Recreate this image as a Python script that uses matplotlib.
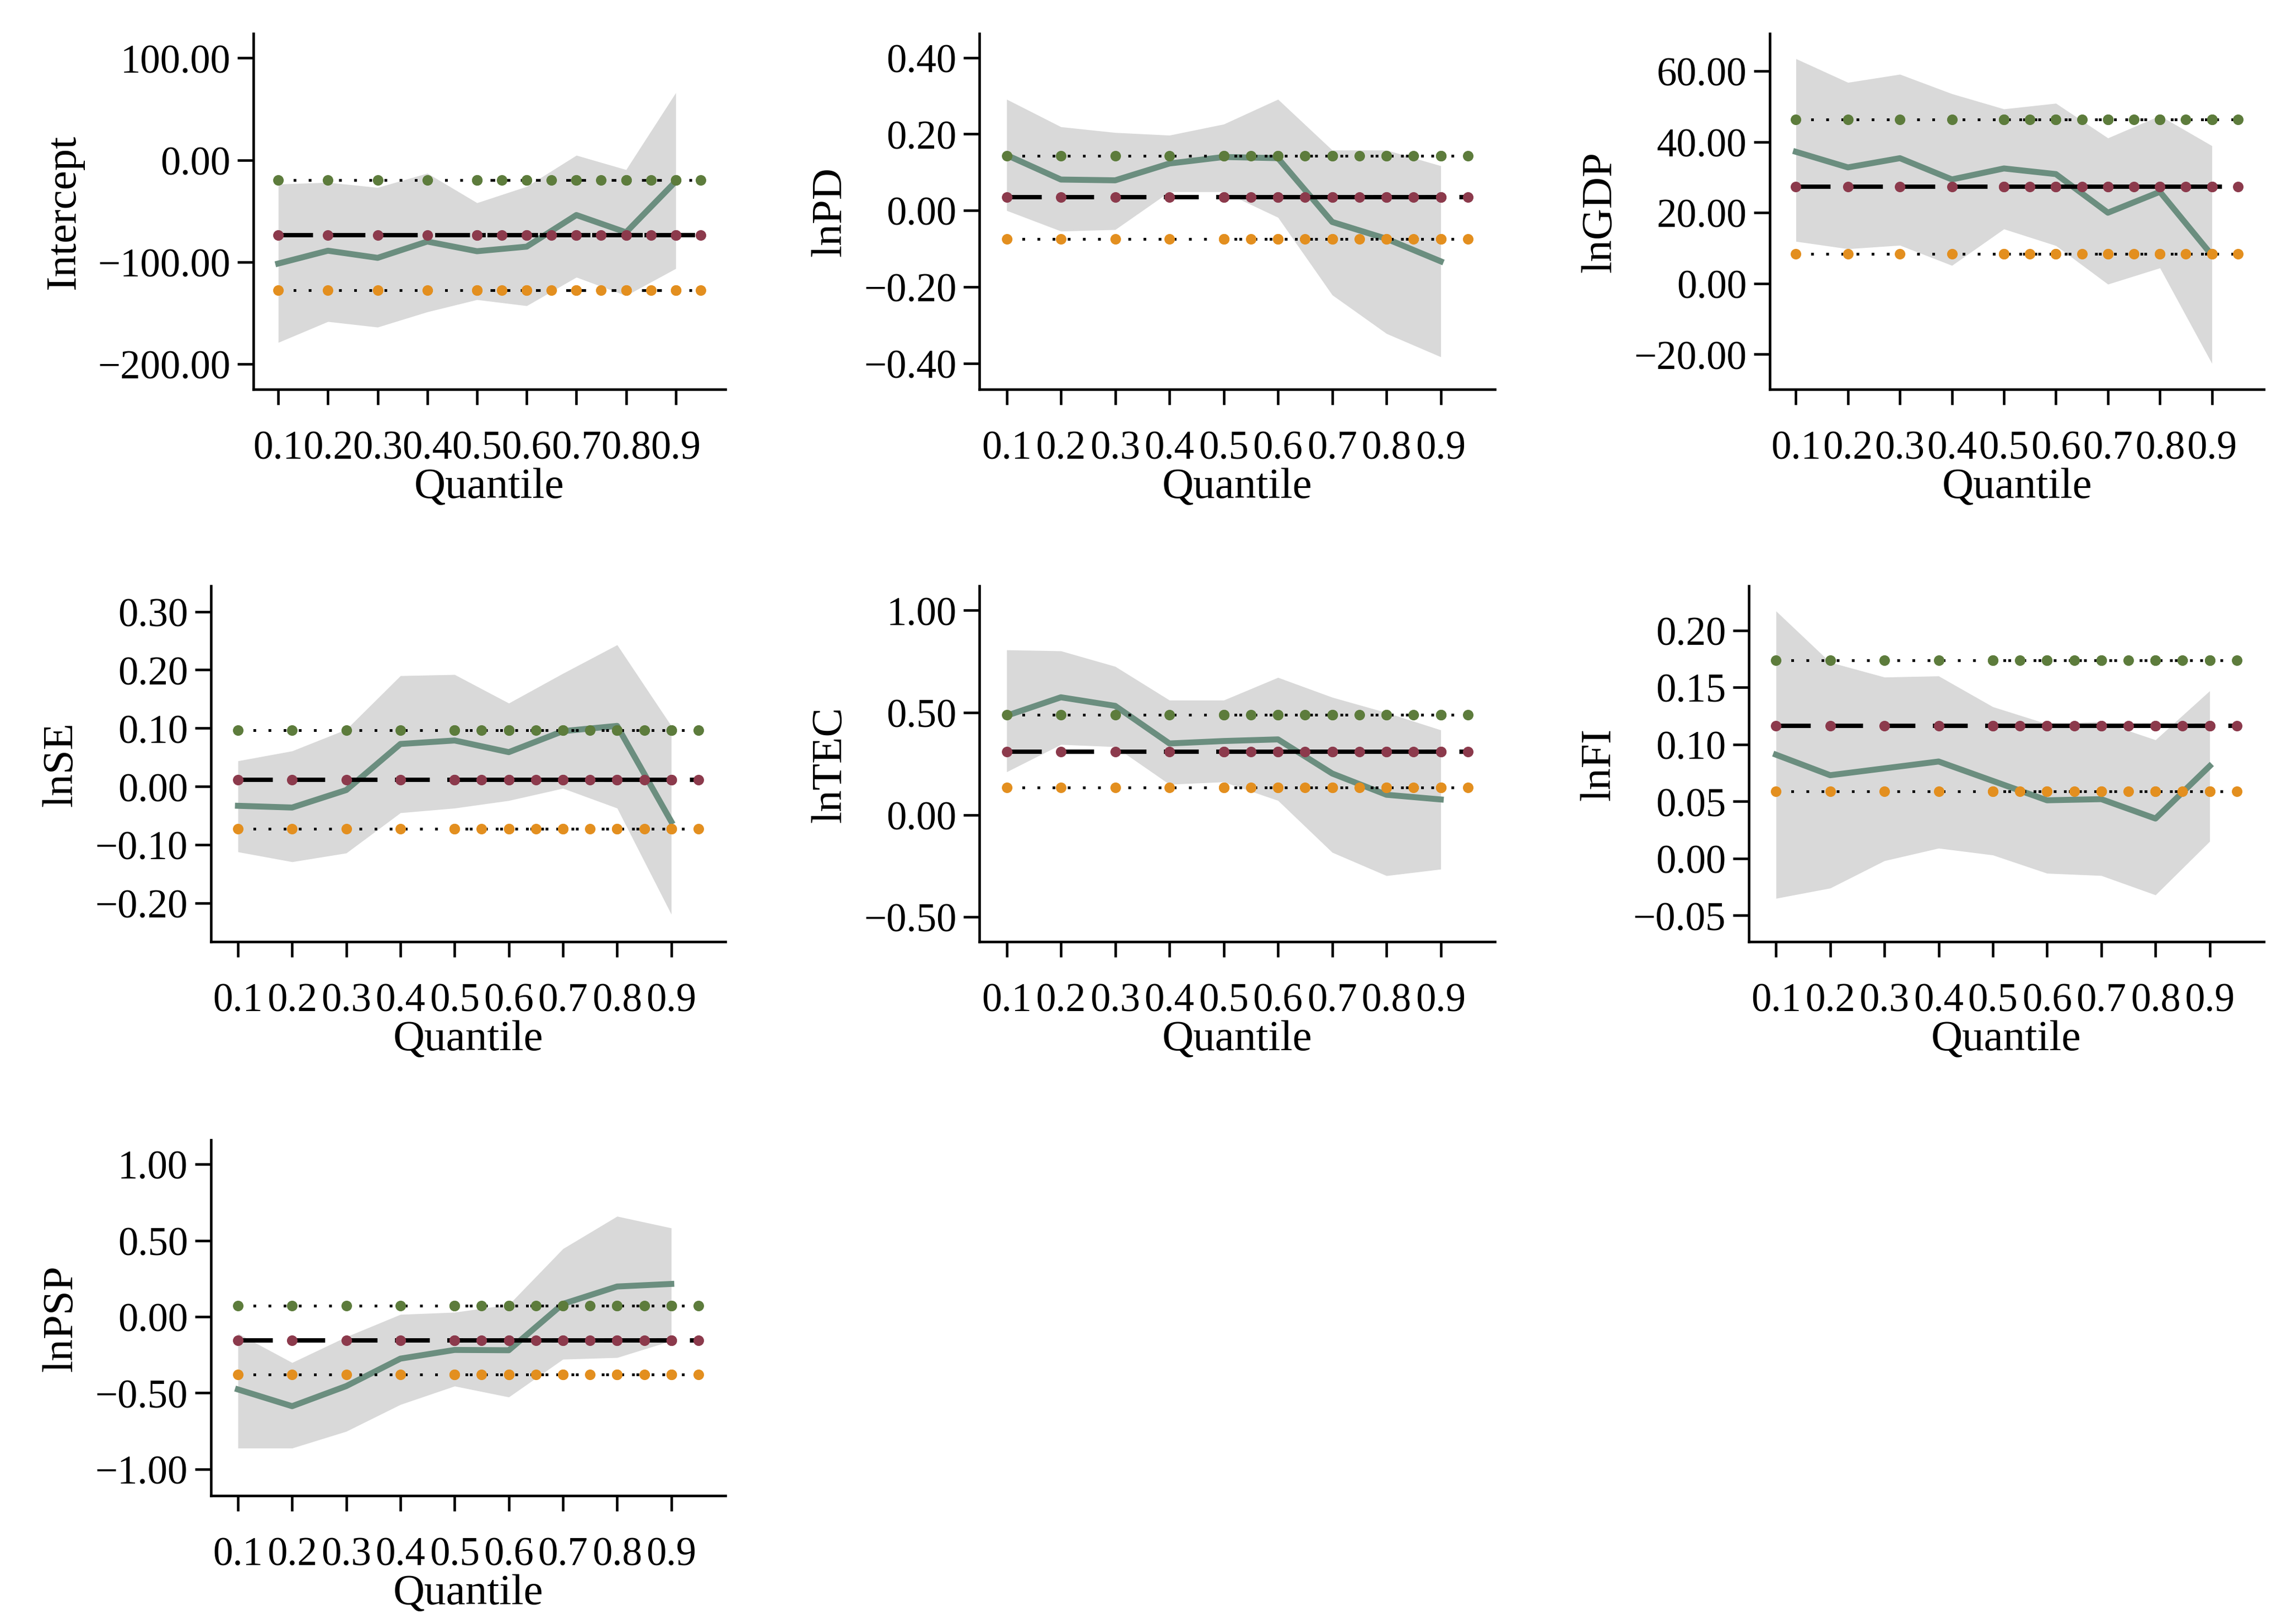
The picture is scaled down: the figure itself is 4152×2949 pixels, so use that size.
import matplotlib
matplotlib.use("Agg")
import matplotlib.pyplot as plt
from matplotlib.ticker import FuncFormatter

plt.rcParams['font.family'] = ['Liberation Serif', 'DejaVu Serif']
plt.rcParams['font.size'] = 17.5

# quantiles used by the quantile regression
quantiles = [0.1, 0.2, 0.3, 0.4, 0.5, 0.6, 0.7, 0.8, 0.9]
# grid on which the OLS reference lines are drawn (coarse + fine part)
ols_grid_coarse = [0.1, 0.2, 0.3, 0.4, 0.5, 0.6, 0.7, 0.8, 0.9]
ols_grid_fine = [0.5, 0.55, 0.6, 0.65, 0.7, 0.75, 0.8, 0.85, 0.9, 0.95]
xtick_labels = ["0.1", "0.2", "0.3", "0.4", "0.5", "0.6", "0.7", "0.8", "0.9"]

variables = ["Intercept", "lnPD", "lnGDP", "lnSE", "lnTEC", "lnFI", "lnPSP"]

# quantile regression coefficients
qr_coef = {
    "Intercept": [-101.6, -89.0, -96.0, -80.0, -89.5, -85.0, -54.0, -71.0, -21.0],
    "lnPD": [0.145, 0.081, 0.079, 0.123, 0.140, 0.137, -0.030, -0.074, -0.133],
    "lnGDP": [37.2, 32.8, 35.4, 29.4, 32.5, 30.9, 20.0, 25.9, 8.0],
    "lnSE": [-0.033, -0.036, -0.006, 0.073, 0.079, 0.059, 0.095, 0.104, -0.060],
    "lnTEC": [0.485, 0.575, 0.533, 0.349, 0.361, 0.369, 0.202, 0.098, 0.075],
    "lnFI": [0.091, 0.073, 0.079, 0.085, 0.068, 0.051, 0.052, 0.035, 0.081],
    "lnPSP": [-0.477, -0.587, -0.455, -0.275, -0.218, -0.220, 0.084, 0.198, 0.215],
}
# quantile regression confidence band
qr_upper = {
    "Intercept": [-23.7, -22.0, -27.0, -13.0, -42.0, -26.0, 4.6, -9.5, 66.0],
    "lnPD": [0.291, 0.219, 0.204, 0.197, 0.226, 0.291, 0.158, 0.158, 0.117],
    "lnGDP": [63.5, 56.8, 59.1, 53.6, 49.3, 50.9, 41.1, 47.4, 38.9],
    "lnSE": [0.044, 0.061, 0.098, 0.190, 0.192, 0.143, 0.194, 0.243, 0.104],
    "lnTEC": [0.807, 0.802, 0.726, 0.561, 0.561, 0.672, 0.575, 0.500, 0.415],
    "lnFI": [0.217, 0.172, 0.159, 0.160, 0.133, 0.118, 0.120, 0.104, 0.147],
    "lnPSP": [-0.110, -0.301, -0.132, 0.015, 0.029, 0.079, 0.446, 0.659, 0.582],
}
qr_lower = {
    "Intercept": [-179.0, -158.5, -164.0, -149.0, -137.0, -143.0, -115.0, -133.0, -106.5],
    "lnPD": [0.000, -0.054, -0.050, 0.049, 0.049, -0.018, -0.221, -0.322, -0.383],
    "lnGDP": [11.9, 9.8, 10.8, 5.1, 15.4, 10.7, -0.2, 4.4, -22.6],
    "lnSE": [-0.112, -0.129, -0.114, -0.045, -0.037, -0.024, -0.003, -0.037, -0.219],
    "lnTEC": [0.210, 0.344, 0.333, 0.149, 0.161, 0.070, -0.184, -0.298, -0.266],
    "lnFI": [-0.035, -0.026, -0.002, 0.009, 0.003, -0.013, -0.015, -0.032, 0.015],
    "lnPSP": [-0.862, -0.862, -0.752, -0.576, -0.455, -0.527, -0.279, -0.268, -0.158],
}
# OLS estimate and its confidence interval
ols_coef = {"Intercept": -73.7, "lnPD": 0.035, "lnGDP": 27.3, "lnSE": 0.012,
            "lnTEC": 0.308, "lnFI": 0.1165, "lnPSP": -0.154}
ols_upper = {"Intercept": -19.7, "lnPD": 0.143, "lnGDP": 46.3, "lnSE": 0.097,
             "lnTEC": 0.489, "lnFI": 0.174, "lnPSP": 0.073}
ols_lower = {"Intercept": -127.6, "lnPD": -0.074, "lnGDP": 8.3, "lnSE": -0.072,
             "lnTEC": 0.133, "lnFI": 0.059, "lnPSP": -0.378}

yticks = {
    "Intercept": [-200, -100, 0, 100],
    "lnPD": [-0.4, -0.2, 0.0, 0.2, 0.4],
    "lnGDP": [-20, 0, 20, 40, 60],
    "lnSE": [-0.2, -0.1, 0.0, 0.1, 0.2, 0.3],
    "lnTEC": [-0.5, 0.0, 0.5, 1.0],
    "lnFI": [-0.05, 0.0, 0.05, 0.1, 0.15, 0.2],
    "lnPSP": [-1.0, -0.5, 0.0, 0.5, 1.0],
}
ylims = {
    "Intercept": (-225, 124),
    "lnPD": (-0.468, 0.463),
    "lnGDP": (-29.9, 70.6),
    "lnSE": (-0.266, 0.344),
    "lnTEC": (-0.621, 1.12),
    "lnFI": (-0.073, 0.239),
    "lnPSP": (-1.174, 1.16),
}

# axes rectangles [left, bottom, width, height] in figure fractions
rects = {
    "Intercept": [0.1108, 0.760, 0.2064, 0.219],
    "lnPD": [0.4283, 0.760, 0.2254, 0.219],
    "lnGDP": [0.7739, 0.760, 0.2160, 0.219],
    "lnSE": [0.0922, 0.420, 0.2250, 0.219],
    "lnTEC": [0.4283, 0.420, 0.2254, 0.219],
    "lnFI": [0.7647, 0.420, 0.2252, 0.219],
    "lnPSP": [0.0922, 0.079, 0.2250, 0.219],
}

qr_color = "#6b8e7f"
band_color = "#d9d9d9"
ols_dot = "#8c3a4c"
up_dot = "#5d7c3c"
lo_dot = "#e38f1f"

minus_fmt = FuncFormatter(lambda v, pos: f"{v:.2f}".replace("-", "\u2212"))

fig = plt.figure(figsize=(13.84, 9.8333), dpi=300)

for name in variables:
    ax = fig.add_axes(rects[name])

    ax.fill_between(quantiles, qr_lower[name], qr_upper[name],
                    color=band_color, linewidth=0, zorder=1)
    ax.plot(quantiles, qr_coef[name], color=qr_color, lw=2.6, zorder=3)

    # OLS confidence bounds: dotted lines with coloured dots
    for val, col in ((ols_upper[name], up_dot), (ols_lower[name], lo_dot)):
        for grid in (ols_grid_coarse, ols_grid_fine):
            ax.plot(grid, [val] * len(grid), color="black", lw=1.2,
                    dashes=(1, 4.5), dash_capstyle="butt", marker="o",
                    ms=3.6, mfc=col, mec=col, zorder=4)

    # OLS estimate: long dashes with maroon dots
    for grid, off in ((ols_grid_coarse, 0), (ols_grid_fine, 6)):
        line, = ax.plot(grid, [ols_coef[name]] * len(grid), color="black",
                        lw=1.9, marker="o", ms=3.6, mfc=ols_dot, mec=ols_dot,
                        zorder=5)
        line.set_linestyle((off, (8, 4)))

    ax.set_xlim(0.05, 1.0)
    ax.set_ylim(*ylims[name])
    ax.set_xticks(quantiles)
    ax.set_xticklabels(xtick_labels)
    ax.set_yticks(yticks[name])
    ax.yaxis.set_major_formatter(minus_fmt)

    for s in ("top", "right"):
        ax.spines[s].set_visible(False)
    for s in ("left", "bottom"):
        ax.spines[s].set_linewidth(1.1)

    ax.tick_params(axis="x", direction="out", length=6.7, width=1.1, pad=11)
    ax.tick_params(axis="y", direction="out", length=7, width=1.1, pad=3)

    ax.set_xlabel("Quantile", fontsize=19, labelpad=0)
    ax.set_ylabel(name, fontsize=19, labelpad=6)

fig.savefig("out.png", dpi=300)
